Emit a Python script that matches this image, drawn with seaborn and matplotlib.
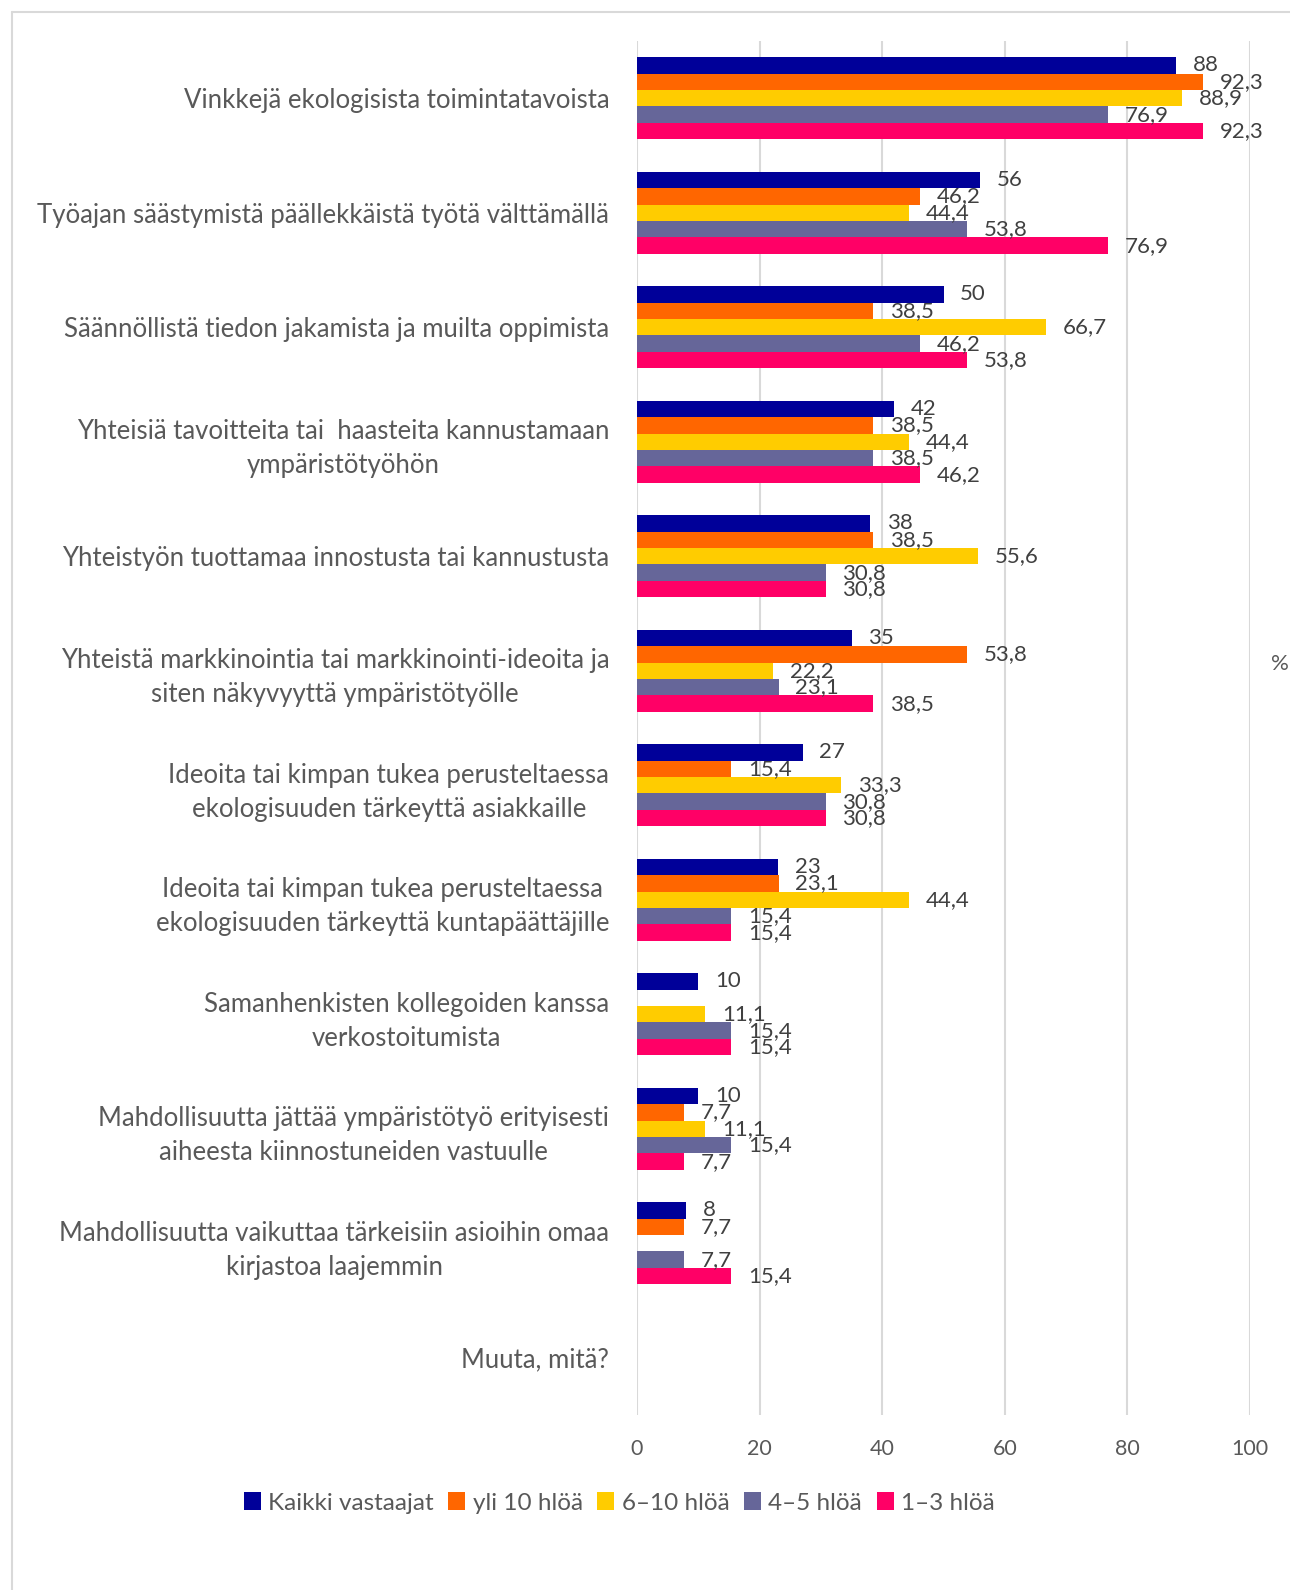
import numpy as np
import pandas as pd
import matplotlib
matplotlib.use("Agg")
import matplotlib.pyplot as plt
from matplotlib.lines import Line2D
from matplotlib.patches import Patch
import seaborn as sns

categories = [
    "Vinkkejä ekologisista toimintatavoista",
    "Työajan säästymistä päällekkäistä työtä välttämällä",
    "Säännöllistä tiedon jakamista ja muilta oppimista",
    "Yhteisiä tavoitteita tai  haasteita kannustamaan\nympäristötyöhön",
    "Yhteistyön tuottamaa innostusta tai kannustusta",
    "Yhteistä markkinointia tai markkinointi-ideoita ja\nsiten näkyvyyttä ympäristötyölle",
    "Ideoita tai kimpan tukea perusteltaessa\nekologisuuden tärkeyttä asiakkaille",
    "Ideoita tai kimpan tukea perusteltaessa\nekologisuuden tärkeyttä kuntapäättäjille",
    "Samanhenkisten kollegoiden kanssa\nverkostoitumista",
    "Mahdollisuutta jättää ympäristötyö erityisesti\naiheesta kiinnostuneiden vastuulle",
    "Mahdollisuutta vaikuttaa tärkeisiin asioihin omaa\nkirjastoa laajemmin",
    "Muuta, mitä?",
]
series = ["Kaikki vastaajat", "yli 10 hlöä", "6–10 hlöä", "4–5 hlöä", "1–3 hlöä"]
nan = np.nan
kaikki = [88, 56, 50, 42, 38, 35, 27, 23, 10, 10, 8, nan]
yli10 = [92.3, 46.2, 38.5, 38.5, 38.5, 53.8, 15.4, 23.1, nan, 7.7, 7.7, nan]
h6_10 = [88.9, 44.4, 66.7, 44.4, 55.6, 22.2, 33.3, 44.4, 11.1, 11.1, nan, nan]
h4_5 = [76.9, 53.8, 46.2, 38.5, 30.8, 23.1, 30.8, 15.4, 15.4, 15.4, 7.7, nan]
h1_3 = [92.3, 76.9, 53.8, 46.2, 30.8, 38.5, 30.8, 15.4, 15.4, 7.7, 15.4, nan]
colors = ["#000099", "#FF6600", "#FFCC00", "#666699", "#FF0066"]
xticks = [0, 20, 40, 60, 80, 100]

values = [kaikki, yli10, h6_10, h4_5, h1_3]
rows = []
for s, vals in zip(series, values):
    for c, v in zip(categories, vals):
        rows.append({"cat": c, "series": s, "val": v})
df = pd.DataFrame(rows)

sns.set_theme(style="white")
plt.rcParams['font.family'] = ['Lato', 'DejaVu Sans']
TXT = "#595959"
LBL = "#404040"

fig = plt.figure(figsize=(12.9, 15.9), dpi=100)
ax = fig.add_axes([637/1290, 1 - 1415/1590, (1250-637)/1290, (1415-41)/1590])

sns.barplot(data=df, y="cat", x="val", hue="series", order=categories,
            hue_order=series, palette=colors, orient="h", width=0.72,
            ax=ax, legend=False, linewidth=0, saturation=1)

ax.set_xlim(0, 100)
ax.set_ylim(len(categories) - 0.5, -0.5)
ax.set_xticks(xticks)
ax.set_xticklabels([str(t) for t in xticks], fontsize=15.5, color=TXT)
ax.tick_params(axis="x", length=0, pad=17)
ax.tick_params(axis="y", length=0, pad=20)
ax.set_yticks(range(len(categories)))
ax.set_yticklabels(categories, fontsize=18.5, color=TXT, multialignment="center", linespacing=1.45)
ax.set_xlabel("")
ax.set_ylabel("")
ax.grid(axis="x", color="#D9D9D9", linewidth=1.5)
ax.set_axisbelow(True)
for sp in ax.spines.values():
    sp.set_visible(False)

# value labels
for cont in ax.containers:
    labels = []
    for bar in cont:
        w = bar.get_width()
        labels.append("" if np.isnan(w) else (f"{w:g}".replace(".", ",")))
    ax.bar_label(cont, labels=labels, padding=12, fontsize=16, color=LBL)

handles = [Patch(facecolor=c, edgecolor="none") for c in colors]
fig.legend(handles, series, loc="center", bbox_to_anchor=(0.48, 1 - 1503/1590),
           ncol=5, frameon=False, fontsize=17.5, handlelength=0.7, handleheight=0.7,
           handletextpad=0.3, columnspacing=0.6, labelcolor=TXT)

fig.text(1280/1290, 1 - 664/1590, "%", fontsize=16, color=TXT, ha="center", va="center")

fig.add_artist(Line2D([12/1290, 12/1290], [0, 1 - 12/1590], color="#D9D9D9", lw=1.5,
                      transform=fig.transFigure))
fig.add_artist(Line2D([12/1290, 1], [1 - 12/1590, 1 - 12/1590], color="#D9D9D9", lw=1.5,
                      transform=fig.transFigure))

fig.savefig("out.png", dpi=100, facecolor="white")
